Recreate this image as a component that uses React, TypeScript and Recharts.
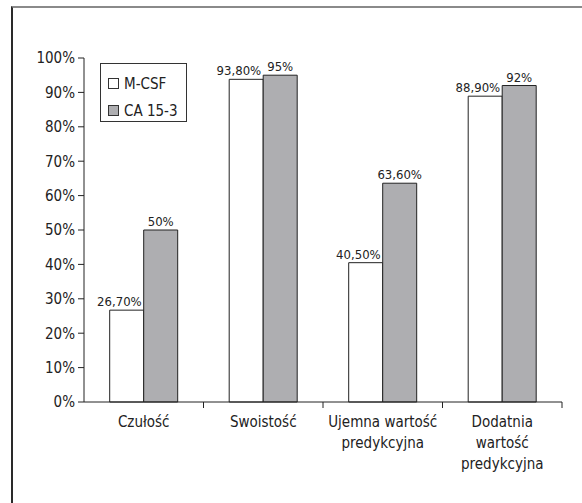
import React from 'react';
import { BarChart, Bar, XAxis, YAxis, Legend, LabelList } from 'recharts';

const categories = ['Czułość', 'Swoistość', 'Ujemna wartość\npredykcyjna', 'Dodatnia\nwartość\npredykcyjna'];
const mcsfValues = [26.7, 93.8, 40.5, 88.9];
const ca153Values = [50, 95, 63.6, 92];
const yTicks = [0, 10, 20, 30, 40, 50, 60, 70, 80, 90, 100];
const seriesOrder = ['mcsf', 'ca'];

const data = categories.map((name, i) => ({ name, mcsf: mcsfValues[i], ca: ca153Values[i] }));

const FONT = '"DejaVu Sans Condensed", "Liberation Sans Narrow", sans-serif';

const fmt = (v: number) => (Number.isInteger(v) ? `${v}%` : `${v.toFixed(2).replace('.', ',')}%`);

function CategoryTick(props: any) {
  const { x, y, payload } = props;
  const half = payload.offset ?? 0;
  const lines = String(payload.value).split('\n');
  return (
    <g>
      <line x1={x + half} y1={y - 8} x2={x + half} y2={y - 2} stroke="#222" />
      <text x={x} y={y + 17} textAnchor="middle" fontSize={15} fontFamily={FONT} fill="#222">
        {lines.map((l, i) => (
          <tspan key={i} x={x} dy={i === 0 ? 0 : 21}>{l}</tspan>
        ))}
      </text>
    </g>
  );
}

function LeftLabel(props: any) {
  const { x, y, width, value } = props;
  return (
    <text x={x + width - 2} y={y - 4} textAnchor="end" fontSize={13} fontFamily={FONT} fill="#222">
      {fmt(value)}
    </text>
  );
}

function LegendBox(props: any) {
  const items = [...(props.payload || [])].sort(
    (a: any, b: any) => seriesOrder.indexOf(a.dataKey) - seriesOrder.indexOf(b.dataKey)
  );
  return (
    <div style={{ border: '1px solid #333', width: 87, height: 59, boxSizing: 'border-box', padding: '6px 0 0 7px', fontFamily: FONT, fontSize: 15, color: '#222', background: '#fff' }}>
      {items.map((e: any, i: number) => (
        <div key={i} style={{ display: 'flex', alignItems: 'center', height: 27 }}>
          <span style={{ display: 'inline-block', width: 11, height: 11, border: '1px solid #333', boxSizing: 'border-box', background: e.color, marginRight: 5 }} />
          <span>{e.value}</span>
        </div>
      ))}
    </div>
  );
}

export default function App() {
  return (
    <div style={{ position: 'absolute', left: 0, top: 0, width: 582, height: 503, background: '#fff', overflow: 'hidden' }}>
      <div style={{ position: 'absolute', left: 11, top: 6, width: 700, height: 700, borderTop: '2px solid #8a8a8a', borderLeft: '2px solid #2a2a2a' }} />
      <div style={{ position: 'absolute', left: 0, top: 0 }}>
        <BarChart width={582} height={503} data={data} margin={{ top: 58, right: 20, bottom: 41, left: 0 }} barCategoryGap="21.5%" barGap={0}>
          <YAxis
            domain={[0, 100]}
            ticks={yTicks}
            tickFormatter={(v) => `${v}%`}
            width={84}
            tickSize={6}
            tickMargin={3}
            axisLine={{ stroke: '#222' }}
            tickLine={{ stroke: '#222' }}
            tick={{ fontSize: 15, fontFamily: FONT, fill: '#222' }}
            interval={0}
          />
          <XAxis dataKey="name" height={60} axisLine={{ stroke: '#222' }} tickLine={false} tick={<CategoryTick />} interval={0} />
          <Legend
            content={<LegendBox />}
            layout="vertical"
            align="center"
            verticalAlign="middle"
            wrapperStyle={{ left: 100, top: 63, width: 87 }}
          />
          <Bar dataKey="mcsf" name="M-CSF" fill="#ffffff" stroke="#222" strokeWidth={1} isAnimationActive={false}>
            <LabelList dataKey="mcsf" content={<LeftLabel />} />
          </Bar>
          <Bar dataKey="ca" name="CA 15-3" fill="#aeaeb1" stroke="#222" strokeWidth={1} isAnimationActive={false}>
            <LabelList dataKey="ca" position="top" offset={4} formatter={(v: any) => fmt(Number(v))} style={{ fontSize: 13, fontFamily: FONT, fill: '#222' }} />
          </Bar>
        </BarChart>
      </div>
    </div>
  );
}
